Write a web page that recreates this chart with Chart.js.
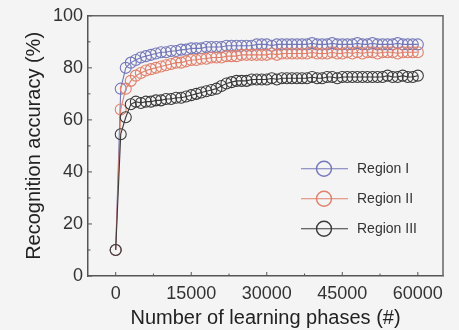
<!DOCTYPE html>
<html>
<head>
<meta charset="utf-8">
<script src="https://cdn.jsdelivr.net/npm/chart.js@4.4.0/dist/chart.umd.min.js"></script>
<style>
  html, body { margin: 0; padding: 0; background: #f4f4f4; }
  #wrap { width: 459px; height: 330px; }
</style>
</head>
<body>
<div id="wrap"><canvas id="c" width="459" height="330"></canvas></div>
<script>
const phases = [0,1000,2000,3000,4000,5000,6000,7000,8000,9000,10000,11000,12000,13000,14000,15000,16000,17000,18000,19000,20000,21000,22000,23000,24000,25000,26000,27000,28000,29000,30000,31000,32000,33000,34000,35000,36000,37000,38000,39000,40000,41000,42000,43000,44000,45000,46000,47000,48000,49000,50000,51000,52000,53000,54000,55000,56000,57000,58000,59000,60000];
const regionI = [10,72,80,82,83,84,84.5,85,85.5,86,86,86.5,86.5,87,87,87.5,87.5,87.5,88,88,88,88,88.5,88.5,88.5,88.5,88.5,88.5,89,89,89,88.5,89,89,89,89,89,89,89,89.5,89,89,89,89.5,89,89,89,89,89.5,89,89,89.5,89,89,89,89,89.5,89,89,89,89];
const regionII = [10,64,72,75,77,78,79,79.5,80,80.5,81,81.5,82,82,82.5,83,83,83.5,83.5,84,84,84,84.5,84.5,84.5,85,85,85,85,85,85,85.5,85,85.5,85.5,85.5,85.5,85.5,85.5,86,85.5,85.5,85.5,86,85.5,85.5,86,85.5,86,85.5,86,86,85.5,86,86,86,85.5,86,86,86,86];
const regionIII = [10,54.5,61,66,67,66.5,67,67,67.5,67.5,68,68,68.5,68.5,69,69.5,70,70.5,71,71.5,72,73,74,74.5,75,75,75,75.5,75.5,75.5,75.5,76,75.5,76,76,76,76,76,76,76.5,76,76,76.5,76.5,76,76.5,76.5,76.5,76.5,76.5,76.5,76.5,76.5,76.5,77,76.5,76.5,77,76.5,76.5,77];
const seriesNames = ['Region I', 'Region II', 'Region III'];
const xTicks = [0, 15000, 30000, 45000, 60000];
const xMinorTicks = [7500, 22500, 37500, 52500];
const yTicks = [0, 20, 40, 60, 80, 100];
const yMinorTicks = [10, 30, 50, 70, 90];

const colors = ['#7478b8', '#e0806c', '#3a3a3a'];
const FONT = "'Liberation Sans', Arial, sans-serif";

function pts(arr) { return phases.map((p, i) => ({ x: p, y: arr[i] })); }

const datasets = [regionI, regionII, regionIII].map((arr, i) => ({
  label: seriesNames[i],
  data: pts(arr),
  borderColor: colors[i],
  backgroundColor: 'rgba(0,0,0,0)',
  borderWidth: 1.1,
  pointRadius: 5.5,
  pointHoverRadius: 5.5,
  pointBorderWidth: 1.1,
  pointBorderColor: colors[i],
  pointBackgroundColor: 'rgba(0,0,0,0)',
  tension: 0,
  order: 2 - i
}));

const bgPlugin = {
  id: 'bg',
  beforeDraw(chart) {
    const ctx = chart.ctx;
    ctx.save();
    ctx.fillStyle = '#f4f4f4';
    ctx.fillRect(0, 0, chart.width, chart.height);
    ctx.restore();
  }
};

const framePlugin = {
  id: 'frame',
  afterDraw(chart) {
    const ctx = chart.ctx;
    const a = chart.chartArea;
    const xs = chart.scales.x, ys = chart.scales.y;
    ctx.save();
    ctx.strokeStyle = '#666';
    ctx.lineWidth = 1.5;
    ctx.beginPath();
    ctx.moveTo(a.left, a.top); ctx.lineTo(a.right, a.top); ctx.lineTo(a.right, a.bottom);
    ctx.stroke();
    ctx.strokeStyle = '#555';
    ctx.lineWidth = 1;
    ctx.beginPath();
    xTicks.forEach(v => { const p = xs.getPixelForValue(v); ctx.moveTo(p, a.bottom); ctx.lineTo(p, a.bottom - 4); });
    xMinorTicks.forEach(v => { const p = xs.getPixelForValue(v); ctx.moveTo(p, a.bottom); ctx.lineTo(p, a.bottom - 2.5); });
    yTicks.forEach(v => { const p = ys.getPixelForValue(v); ctx.moveTo(a.left, p); ctx.lineTo(a.left + 4, p); });
    yMinorTicks.forEach(v => { const p = ys.getPixelForValue(v); ctx.moveTo(a.left, p); ctx.lineTo(a.left + 2.5, p); });
    ctx.stroke();

    // legend
    const lx = a.right - 142, cx = a.right - 119, tx = a.right - 86;
    const ly = [a.top + 153, a.top + 183, a.top + 213];
    chart.data.datasets.forEach((ds, i) => {
      ctx.strokeStyle = ds.borderColor;
      ctx.lineWidth = 1.1;
      ctx.beginPath();
      ctx.moveTo(lx, ly[i]); ctx.lineTo(lx + 47, ly[i]);
      ctx.stroke();
      ctx.lineWidth = 1.4;
      ctx.beginPath();
      ctx.arc(cx, ly[i], 7.5, 0, Math.PI * 2);
      ctx.stroke();
      ctx.fillStyle = '#333';
      ctx.font = '14px ' + FONT;
      ctx.textBaseline = 'middle';
      ctx.textAlign = 'left';
      ctx.fillText(ds.label, tx, ly[i]);
    });
    ctx.restore();
  }
};

new Chart(document.getElementById('c'), {
  type: 'line',
  data: { datasets },
  plugins: [bgPlugin, framePlugin],
  options: {
    responsive: false,
    animation: false,
    layout: { padding: { left: 0, right: 16, top: 15, bottom: 0 } },
    plugins: { legend: { display: false }, tooltip: { enabled: false } },
    scales: {
      x: {
        type: 'linear',
        min: -5500,
        max: 65000,
        afterBuildTicks(scale) { scale.ticks = xTicks.map(v => ({ value: v })); },
        afterFit(scale) { scale.height = 54; },
        grid: { display: false, drawTicks: false },
        border: { display: true, color: '#555', width: 1.5 },
        ticks: {
          padding: 7,
          color: '#333',
          font: { family: FONT, size: 18 },
          maxRotation: 0,
          autoSkip: false,
          callback: v => String(v)
        },
        title: {
          display: true,
          text: 'Number of learning phases (#)',
          color: '#222',
          font: { family: FONT, size: 20 },
          padding: { top: 0, bottom: 0 }
        }
      },
      y: {
        min: 0,
        max: 100,
        afterBuildTicks(scale) { scale.ticks = yTicks.map(v => ({ value: v })); },
        afterFit(scale) { scale.width = 88; },
        grid: { display: false, drawTicks: false },
        border: { display: true, color: '#555', width: 1.5 },
        ticks: {
          padding: 5,
          color: '#333',
          font: { family: FONT, size: 18 },
          callback: v => String(v)
        },
        title: {
          display: true,
          text: 'Recognition accuracy (%)',
          color: '#222',
          font: { family: FONT, size: 20 },
          padding: { top: 22, bottom: 0 }
        }
      }
    }
  }
});
</script>
</body>
</html>
